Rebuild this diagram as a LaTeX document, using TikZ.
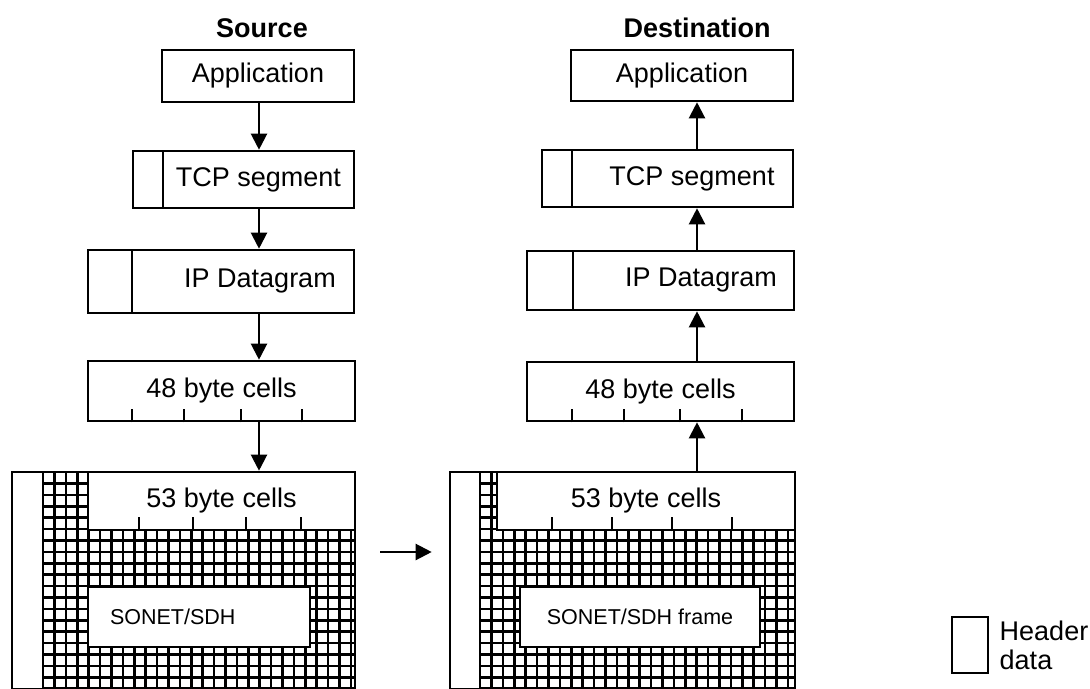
\documentclass[tikz,border=0pt]{standalone}
\usepackage{fontspec}
\setmainfont{Liberation Sans}
\usetikzlibrary{arrows.meta,positioning}

\begin{document}
\begin{tikzpicture}[x=0.5pt, y=-0.5pt,
  every node/.style={font=\fontsize{13.5}{14.5}\selectfont},
  box/.style={draw, line width=1.3pt, fill=white, inner sep=0pt},
  flow/.style={line width=1.1pt, -{Triangle[length=8pt,width=8pt]}},
  tick/.style={line width=1.1pt},
  gridline/.style={line width=1.3pt}]
  \useasboundingbox (0,0) rectangle (1090,689);

  % Trames SONET (grilles)
  \begin{scope}
    \clip (43,472) rectangle (355,689);
    \foreach \gx in {0,...,28} \draw[gridline] ({43+11.4*\gx},472) -- ++(0,217);
    \foreach \gy in {0,...,19} \draw[gridline] (43,{472+11.4*\gy}) -- ++(312,0);
  \end{scope}
  \draw[gridline] (43,472) rectangle (355,689);
  \begin{scope}
    \clip (480,472) rectangle (795,689);
    \foreach \gx in {0,...,28} \draw[gridline] ({480+11.4*\gx},472) -- ++(0,217);
    \foreach \gy in {0,...,19} \draw[gridline] (480,{472+11.4*\gy}) -- ++(315,0);
  \end{scope}
  \draw[gridline] (480,472) rectangle (795,689);

  % Titres
  \node[font=\fontsize{13.5}{14.5}\selectfont\bfseries] (srcTitle) at (262,28) {Source};
  \node[font=\fontsize{13.5}{14.5}\selectfont\bfseries] (dstTitle) at (697,28) {Destination};

  % Pile source
  \node[box, minimum width=96pt, minimum height=26pt] (srcApp) at (258,76) {Application};
  \node[box, minimum width=15pt, minimum height=28.5pt] (srcTcpHdr) at (148,179.5) {};
  \node[box, minimum width=95.5pt, minimum height=28.5pt] (srcTcp) at (258.5,179.5) {TCP segment};
  \node[box, minimum width=22pt, minimum height=31.5pt] (srcIpHdr) at (110,281.5) {};
  \node[box, minimum width=111pt, minimum height=31.5pt] (srcIp) at (243,281.5) {\hspace*{17pt}IP Datagram};
  \node[box, minimum width=133.5pt, minimum height=30pt] (srcCells48) at (221.5,391) {48 byte cells};
  \node[box, minimum width=133.5pt, minimum height=29pt] (srcCells53) at (221.5,501) {53 byte cells};
  \node[box, minimum width=15.5pt, minimum height=108.5pt] (srcOh) at (27.5,580.5) {};
  \node[box, line width=1.2pt, inner xsep=11pt, text width=89pt, align=left, minimum height=30pt,
        font=\fontsize{10.75}{12}\selectfont] (srcSonet) at (199,617) {SONET/SDH};

  % Pile destination
  \node[box, minimum width=111pt, minimum height=25.5pt] (dstApp) at (682,75.5) {Application};
  \node[box, minimum width=15pt, minimum height=28.5pt] (dstTcpHdr) at (557,178.5) {};
  \node[box, minimum width=110.5pt, minimum height=28.5pt] (dstTcp) at (682.5,178.5) {\hspace*{9.5pt}TCP segment};
  \node[box, minimum width=23pt, minimum height=29.5pt] (dstIpHdr) at (550,280.5) {};
  \node[box, minimum width=110.5pt, minimum height=29.5pt] (dstIp) at (683.5,280.5) {\hspace*{17.5pt}IP Datagram};
  \node[box, minimum width=133.5pt, minimum height=29.5pt] (dstCells48) at (660.5,391.5) {48 byte cells};
  \node[box, minimum width=149pt, minimum height=29pt] (dstCells53) at (646,501) {53 byte cells};
  \node[box, minimum width=15pt, minimum height=108.5pt] (dstOh) at (465,580.5) {};
  \node[box, line width=1.2pt, minimum width=120pt, minimum height=30pt,
        font=\fontsize{10.75}{12}\selectfont] (dstSonet) at (640,617) {SONET/SDH frame};

  % Graduations des cellules
  \foreach \t in {45,97,154,215} \draw[tick] (srcCells48.south west) ++(\t,0) -- ++(0,-13);
  \foreach \t in {46,98,154,216} \draw[tick] (dstCells48.south west) ++(\t,0) -- ++(0,-13);
  \foreach \t in {52,106,159,214} \draw[tick] (srcCells53.south west) ++(\t,0) -- ++(0,-14);
  \foreach \t in {56,116,176,236} \draw[tick] (dstCells53.south west) ++(\t,0) -- ++(0,-14);

  % Fleches
  \coordinate (srcAxis) at (259,0);
  \coordinate (dstAxis) at (697,0);
  \draw[flow] (srcApp.south -| srcAxis) -- (srcTcp.north -| srcAxis);
  \draw[flow] (srcTcp.south -| srcAxis) -- (srcIp.north -| srcAxis);
  \draw[flow] (srcIp.south -| srcAxis) -- (srcCells48.north -| srcAxis);
  \draw[flow] (srcCells48.south -| srcAxis) -- (srcCells53.north -| srcAxis);
  \draw[flow] (dstCells53.north -| dstAxis) -- (dstCells48.south -| dstAxis);
  \draw[flow] (dstCells48.north -| dstAxis) -- (dstIp.south -| dstAxis);
  \draw[flow] (dstIp.north -| dstAxis) -- (dstTcp.south -| dstAxis);
  \draw[flow] (dstTcp.north -| dstAxis) -- (dstApp.south -| dstAxis);
  \coordinate (link) at (380,552);
  \draw[flow, shorten >=8.5pt] (link) -- (link -| dstOh.west);

  % Legende
  \node[box, minimum width=18pt, minimum height=28pt] (legendBox) at (970,645) {};
  \node[right=5pt of legendBox, inner sep=0pt, align=left] (legendText) {Header\\data};
\end{tikzpicture}
\end{document}
